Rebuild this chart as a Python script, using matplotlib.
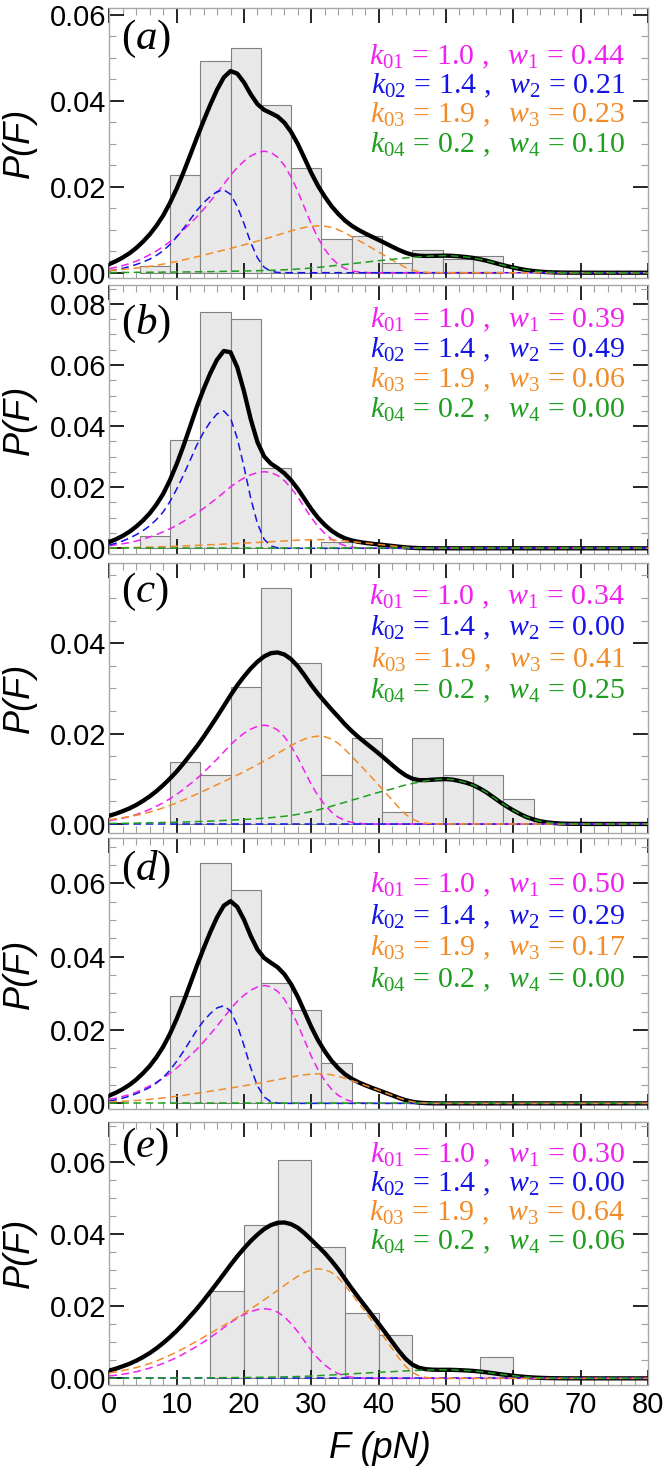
import matplotlib
matplotlib.use('Agg')
import matplotlib.pyplot as plt
import numpy as np
from matplotlib.ticker import MultipleLocator, FormatStrFormatter

plt.rcParams['font.family'] = ['Liberation Sans', 'DejaVu Sans']
plt.rcParams['mathtext.fontset'] = 'custom'
plt.rcParams['mathtext.rm'] = 'Liberation Serif'
plt.rcParams['mathtext.it'] = 'Liberation Serif:italic'

# force grid in pN (0, 1, ..., 80)
F = list(range(81))

# component shapes per unit weight (one per k0)
shape_k01 = [0.0022, 0.0029, 0.0038, 0.0048, 0.0061, 0.0077, 0.0095, 0.0115, 0.0138, 0.0164, 0.0192, 0.0225, 0.0260,
             0.0295, 0.0335, 0.0378, 0.0422, 0.0468, 0.0515, 0.0556, 0.0590, 0.0617, 0.0635, 0.0643, 0.0636, 0.0611,
             0.0568, 0.0506, 0.0430, 0.0343, 0.0257, 0.0183, 0.0124, 0.0077, 0.0044, 0.0022, 0.0010, 0.0004, 0.0001,
             0, 0, 0, 0, 0, 0, 0, 0, 0, 0, 0, 0, 0, 0, 0, 0, 0, 0, 0, 0, 0, 0, 0, 0, 0, 0,
             0, 0, 0, 0, 0, 0, 0, 0, 0, 0, 0, 0, 0, 0, 0, 0]
shape_k02 = [0.0022, 0.0034, 0.0049, 0.0068, 0.0091, 0.0118, 0.0150, 0.0192, 0.0243, 0.0312, 0.0395, 0.0488, 0.0588,
             0.0690, 0.0775, 0.0845, 0.0898, 0.0918, 0.0870, 0.0735, 0.0545, 0.0335, 0.0165, 0.0060, 0.0015, 0.0003,
             0, 0, 0, 0, 0, 0, 0, 0, 0, 0, 0, 0, 0, 0, 0, 0, 0, 0, 0, 0, 0, 0, 0, 0, 0, 0, 0, 0,
             0, 0, 0, 0, 0, 0, 0, 0, 0, 0, 0, 0, 0, 0, 0, 0, 0, 0, 0, 0, 0, 0, 0, 0, 0, 0, 0]
shape_k03 = [0.0023, 0.0028, 0.0034, 0.0040, 0.0047, 0.0055, 0.0064, 0.0075, 0.0087, 0.0100, 0.0114, 0.0129, 0.0145,
             0.0161, 0.0178, 0.0195, 0.0212, 0.0229, 0.0246, 0.0264, 0.0282, 0.0301, 0.0320, 0.0340, 0.0360, 0.0381,
             0.0402, 0.0423, 0.0442, 0.0458, 0.0469, 0.0474, 0.0471, 0.0458, 0.0435, 0.0402, 0.0365, 0.0327, 0.0289,
             0.0250, 0.0210, 0.0170, 0.0129, 0.0088, 0.0052, 0.0026, 0.0011, 0.0004, 0.0001, 0, 0, 0,
             0, 0, 0, 0, 0, 0, 0, 0, 0, 0, 0, 0, 0, 0, 0, 0, 0, 0, 0, 0, 0, 0, 0, 0, 0, 0, 0, 0, 0]
shape_k04 = [0.0005, 0.0006, 0.0006, 0.0007, 0.0008, 0.0009, 0.0010, 0.0011, 0.0013, 0.0014, 0.0016, 0.0017, 0.0019,
             0.0021, 0.0023, 0.0025, 0.0028, 0.0031, 0.0034, 0.0037, 0.0040, 0.0043, 0.0047, 0.0051, 0.0056, 0.0062,
             0.0068, 0.0076, 0.0085, 0.0097, 0.0110, 0.0125, 0.0140, 0.0157, 0.0175, 0.0192, 0.0210, 0.0227, 0.0245,
             0.0263, 0.0280, 0.0295, 0.0310, 0.0328, 0.0345, 0.0358, 0.0370, 0.0381, 0.0390, 0.0395, 0.0397, 0.0392,
             0.0380, 0.0365, 0.0345, 0.0315, 0.0280, 0.0238, 0.0195, 0.0156, 0.0120, 0.0088, 0.0060, 0.0040, 0.0024,
             0.0014, 0.0008, 0.0004, 0.0002, 0.0001, 0.0001, 0, 0, 0, 0, 0, 0, 0, 0, 0, 0]

k_vals = [1.0, 1.4, 1.9, 0.2]

# weights printed in each panel
w_a = [0.44, 0.21, 0.23, 0.10]
w_b = [0.39, 0.49, 0.06, 0.00]
w_c = [0.34, 0.00, 0.41, 0.25]
w_d = [0.50, 0.29, 0.17, 0.00]
w_e = [0.30, 0.00, 0.64, 0.06]

# histograms: left bin edges and heights
hist_a_left = [4.5, 9.0, 13.5, 18.0, 22.5, 27.0, 31.5, 36.0, 40.5, 45.0, 49.5, 54.0]
hist_a = [0.0016, 0.0227, 0.0493, 0.0524, 0.0391, 0.0243, 0.0078, 0.0085, 0.0022, 0.0054, 0.0033, 0.0038]
hist_b_left = [4.5, 9.0, 13.5, 18.0, 22.5, 27.0, 31.5]
hist_b = [0.0041, 0.0353, 0.0773, 0.0750, 0.0264, 0.0, 0.0021]
hist_c_left = [9.0, 13.5, 18.0, 22.5, 27.0, 31.5, 36.0, 40.5, 45.0, 49.5, 54.0, 58.5]
hist_c = [0.0137, 0.0109, 0.0302, 0.0521, 0.0356, 0.0109, 0.0191, 0.0027, 0.0191, 0.0109, 0.0109, 0.0055]
hist_d_left = [9.0, 13.5, 18.0, 22.5, 27.0, 31.5]
hist_d = [0.0292, 0.0655, 0.0582, 0.0327, 0.0255, 0.0109]
hist_e_left = [15, 20, 25, 30, 35, 40, 45, 50, 55]
hist_e = [0.0243, 0.0425, 0.0605, 0.0363, 0.0182, 0.0121, 0.0, 0.0, 0.0060]

panel_names = ['a', 'b', 'c', 'd', 'e']
colors = ['#f020f0', '#1414e6', '#f28c28', '#1e9e1e']
shapes = np.array([shape_k01, shape_k02, shape_k03, shape_k04])

panels = [
    (hist_a_left, hist_a, 4.5, w_a),
    (hist_b_left, hist_b, 4.5, w_b),
    (hist_c_left, hist_c, 4.5, w_c),
    (hist_d_left, hist_d, 4.5, w_d),
    (hist_e_left, hist_e, 5.0, w_e),
]

# layout in pixels (top, bottom of each frame), y limits, text offsets
W, H = 666.0, 1474.0
frames = [(8, 278.3), (285, 553.8), (562.7, 833), (838.3, 1108.5), (1122, 1384.5)]
ylims = [(-0.0013, 0.0616), (-0.0018, 0.0862), (-0.0020, 0.0578), (-0.0014, 0.0723), (-0.0017, 0.0710)]
leg_rows = [(49, 78, 107, 137), (35, 65, 95, 125), (34, 65, 97, 128), (47, 79, 110, 142), (33, 62, 91, 120)]
lab_off = [31, 39, 29, 32, 25]

fig = plt.figure(figsize=(W / 100, H / 100), dpi=100)
x0, x1 = 109.3, 648.0

for i, (left, hts, bw, ws) in enumerate(panels):
    top, bot = frames[i]
    ax = fig.add_axes([x0 / W, 1 - bot / H, (x1 - x0) / W, (bot - top) / H])
    l2 = [l for l, h in zip(left, hts) if h > 0]
    h2 = [h for h in hts if h > 0]
    ax.bar(l2, h2, width=bw, align='edge', color='#e8e8e8', edgecolor='#808080',
           linewidth=0.8, zorder=1)
    comps = np.array(ws)[:, None] * shapes
    ax.plot(F, comps.sum(axis=0), color='black', lw=3.1, zorder=3)
    for comp, c in zip(comps, colors):
        ax.plot(F, comp, color=c, lw=1.1, dashes=(5, 3), zorder=4)

    ax.set_xlim(0, 80)
    ax.set_ylim(*ylims[i])
    ax.xaxis.set_major_locator(MultipleLocator(10))
    ax.xaxis.set_minor_locator(MultipleLocator(2))
    ax.yaxis.set_major_locator(MultipleLocator(0.02))
    ax.yaxis.set_minor_locator(MultipleLocator(0.005))
    ax.yaxis.set_major_formatter(FormatStrFormatter('%.2f'))
    ax.tick_params(which='major', direction='in', length=11, width=1.2, color='black',
                   top=True, right=True, labelsize=21, pad=2)
    ax.tick_params(which='minor', direction='in', length=5, width=0.8, color='#a0a0a0',
                   top=True, right=True)
    ax.tick_params(axis='x', which='major', pad=5)
    if i < 4:
        ax.tick_params(labelbottom=False)
    for s in ax.spines.values():
        s.set_color('#a8a8a8')
        s.set_linewidth(1.0)

    fig.text(19 / W, 1 - (top + bot) / 2 / H, 'P(F)', rotation=90, fontsize=26,
             style='italic', ha='center', va='center')
    fig.text(121 / W, 1 - (top + lab_off[i]) / H, '$(' + panel_names[i] + ')$',
             fontsize=31, ha='left', va='center')
    for j in range(4):
        s = r'$k_{0%d}\,=\,%.1f\ ,\ \ w_{%d}\,=\,%.2f$' % (j + 1, k_vals[j], j + 1, ws[j])
        fig.text(625 / W, 1 - (top + leg_rows[i][j]) / H, s, color=colors[j],
                 fontsize=21.5, ha='right', va='center')

fig.text(380 / W, 1 - 1448 / H, 'F (pN)', fontsize=26, style='italic', ha='center', va='center')

fig.savefig('out.png', dpi=100)
plt.close(fig)
